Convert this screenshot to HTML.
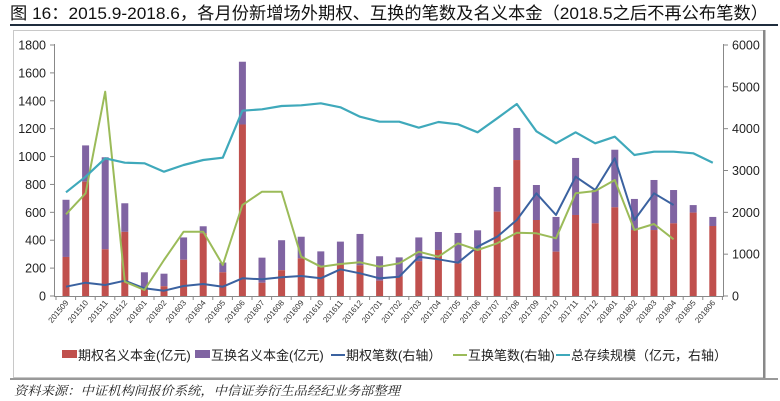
<!DOCTYPE html>
<html><head><meta charset="utf-8">
<style>
body{margin:0;background:#fff;width:780px;height:401px;overflow:hidden;font-family:"Liberation Sans","Noto Sans CJK SC",sans-serif;}
svg{position:absolute;left:0;top:0}
</style></head>
<body>
<svg id="s" width="780" height="401" xmlns="http://www.w3.org/2000/svg">
<text x="10" y="19" font-size="17" fill="#111" textLength="758" lengthAdjust="spacingAndGlyphs" font-family="Liberation Sans, Noto Sans CJK SC, sans-serif">图 16：2015.9-2018.6，各月份新增场外期权、互换的笔数及名义本金（2018.5之后不再公布笔数）</text>
<rect x="10" y="24" width="768" height="2" fill="#1f2d3d"/>
<rect x="13.5" y="30.5" width="751" height="347" fill="none" stroke="#c8c8c8" stroke-width="1"/>
<rect x="763" y="30" width="2.5" height="348" fill="#888"/>
<rect x="10" y="378.5" width="768" height="1" fill="#333"/>
<text x="14" y="395" font-size="12.5" font-style="italic" fill="#222" textLength="386" lengthAdjust="spacingAndGlyphs" font-family="Liberation Serif, Noto Serif CJK SC, serif">资料来源：中证机构间报价系统，中信证券衍生品经纪业务部整理</text>
<g id="g"></g>
</svg>
<script>
var g=document.getElementById('g'),h='';
var Y0=296,PX=251/1800;
function yl(v){return Y0-v*PX}
function xz(i){return 66+i*19.6}
var tot=[690,1080,995,665,170,160,420,500,240,1680,275,400,425,320,390,445,285,277,420,459,452,471,782,1205,796,567,990,760,1049,696,832,760,652,567];
var red=[280,820,335,460,60,70,260,450,170,1230,95,185,270,210,235,220,110,140,250,330,234,330,605,975,545,318,581,521,636,473,473,521,598,502];
var labs=[];for(var y=2015,m=9;labs.length<34;){labs.push(y+(m<10?'0':'')+m);m++;if(m>12){m=1;y++;}}
h+='<line x1="54.5" y1="44" x2="54.5" y2="296.5" stroke="#888"/>';
h+='<line x1="54" y1="296.5" x2="724" y2="296.5" stroke="#888"/>';
h+='<line x1="723.5" y1="44" x2="723.5" y2="296.5" stroke="#888"/>';
for(var v=0;v<=1800;v+=200){var yy=yl(v);h+='<line x1="50" x2="54" y1="'+yy+'" y2="'+yy+'" stroke="#888"/><text x="46" y="'+(yy+4.5)+'" font-size="12.5" text-anchor="end" fill="#222">'+v+'</text>';}
for(var v=0;v<=6000;v+=1000){var yy=Y0-v/6000*251;h+='<line x1="724" x2="728" y1="'+yy+'" y2="'+yy+'" stroke="#888"/><text x="732" y="'+(yy+4.5)+'" font-size="12.5" fill="#222">'+v+'</text>';}
for(var i=0;i<=34;i++){var xx=56+i*19.6;h+='<line x1="'+xx+'" x2="'+xx+'" y1="296" y2="300" stroke="#888"/>';}
for(var i=0;i<34;i++){var x=xz(i);
h+='<rect x="'+(x-3.5)+'" y="'+yl(tot[i])+'" width="7" height="'+(tot[i]-red[i])*PX+'" fill="#8064a2"/>';
h+='<rect x="'+(x-3.5)+'" y="'+yl(red[i])+'" width="7" height="'+red[i]*PX+'" fill="#c0504d"/>';
h+='<text transform="translate('+(x+3)+',303) rotate(-50)" font-size="8" text-anchor="end" fill="#333">'+labs[i]+'</text>';}
function line(z,col,w){var p=z.map(function(v,i){return xz(i).toFixed(1)+','+(30+v/3).toFixed(1)}).join(' ');return '<polyline points="'+p+'" fill="none" stroke="'+col+'" stroke-width="'+w+'" stroke-linejoin="round"/>';}
var teal=[487,440,385,398,400,425,405,390,383,242,238,228,226,220,232,260,275,275,293,276,283,307,265,222,304,340,307,340,320,375,365,365,370,398];
var blue=[770,758,765,752,775,782,768,762,770,745,748,742,738,745,718,730,745,740,680,688,698,650,620,570,490,555,440,480,385,570,490,525];
var grn=[553,490,185,755,780,690,605,605,705,525,485,485,680,710,702,697,710,700,665,680,640,660,640,608,610,625,490,483,450,600,582,628];
h+=line(blue,'#3b62a0',2)+line(grn,'#9bbb59',2)+line(teal,'#3fa9bb',2.2);
var ly=355;
h+='<rect x="62" y="'+(ly-5)+'" width="15" height="8" fill="#c0504d"/><text x="78" y="'+(ly+5)+'" font-size="13" fill="#222">期权名义本金(亿元)</text>';
h+='<rect x="195" y="'+(ly-5)+'" width="15" height="8" fill="#8064a2"/><text x="211" y="'+(ly+5)+'" font-size="13" fill="#222">互换名义本金(亿元)</text>';
h+='<line x1="331" x2="345" y1="'+ly+'" y2="'+ly+'" stroke="#3b62a0" stroke-width="2"/><text x="346" y="'+(ly+5)+'" font-size="13" fill="#222">期权笔数(右轴）</text>';
h+='<line x1="453" x2="467" y1="'+ly+'" y2="'+ly+'" stroke="#9bbb59" stroke-width="2"/><text x="468" y="'+(ly+5)+'" font-size="13" fill="#222">互换笔数(右轴)</text>';
h+='<line x1="556" x2="570" y1="'+ly+'" y2="'+ly+'" stroke="#3fa9bb" stroke-width="2"/><text x="571" y="'+(ly+5)+'" font-size="13" fill="#222">总存续规模（亿元，右轴）</text>';
g.innerHTML=h;
</script>
</body></html>
